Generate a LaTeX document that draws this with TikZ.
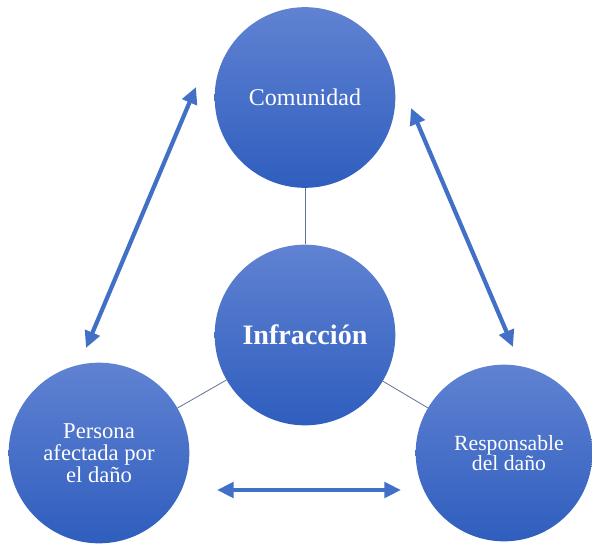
\documentclass[tikz,border=0pt]{standalone}
\usepackage{fontspec}
\setmainfont{Liberation Serif}
\usetikzlibrary{arrows.meta}

\definecolor{azulclaro}{RGB}{96,130,210}
\definecolor{azuloscuro}{RGB}{47,94,190}
\definecolor{azulflecha}{RGB}{66,112,198}
\definecolor{azullinea}{RGB}{100,115,150}

\begin{document}
\begin{tikzpicture}[x=0.03cm,y=-0.03cm,
	circulo/.style={circle,draw=none,inner sep=0pt,minimum size=5.42cm,
		top color=azulclaro,bottom color=azuloscuro,text=white,align=center},
	enlace/.style={draw=azullinea,line width=0.7pt},
	doble/.style={azulflecha,line width=3.6pt,
		{Triangle[length=0.5cm,width=0.46cm]}-{Triangle[length=0.5cm,width=0.46cm]}}]
	\useasboundingbox (0,0) rectangle (592,544);
	
	\node[circulo,font=\fontsize{20.5}{22}\selectfont] (com) at (305,97.5) {Comunidad};
	\node[circulo,font=\fontsize{24}{26}\selectfont\bfseries] (inf) at (305,335) {Infracción};
	\node[circulo,font=\fontsize{19.3}{19}\selectfont] (per) at (99,453) {Persona\\afectada por\\el daño};
	\node[circulo,minimum size=5.3cm,font=\fontsize{18.5}{17.5}\selectfont] (res) at (504,453) {\hspace*{0.3cm}Responsable\\\hspace*{0.3cm}del daño};
	
	%lineas al centro
	\draw[enlace] (inf) -- (com);
	\draw[enlace] (inf) -- (per);
	\draw[enlace] (inf) -- (res);
	
	%flechas
	\coordinate (izqA) at (86,348);  \coordinate (izqB) at (196,87);
	\coordinate (derA) at (411,108); \coordinate (derB) at (513,347);
	\coordinate (abaA) at (217,490); \coordinate (abaB) at (401,490);
	\draw[doble] (izqA) -- (izqB);
	\draw[doble] (derA) -- (derB);
	\draw[doble] (abaA) -- (abaB);
\end{tikzpicture}
\end{document}
